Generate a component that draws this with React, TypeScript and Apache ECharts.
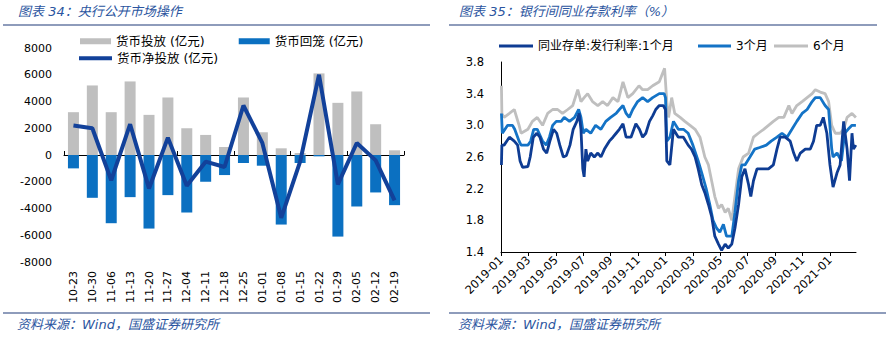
import React, { useEffect, useRef } from 'react';
import * as echarts from 'echarts';

// ---------- Left chart: 央行公开市场操作 ----------
const weekLabels = ['10-23', '10-30', '11-06', '11-13', '11-20', '11-27', '12-04', '12-11', '12-18', '12-25', '01-01', '01-08', '01-15', '01-22', '01-29', '02-05', '02-12', '02-19'];
const injection = [3200, 5200, 3200, 5500, 3000, 4300, 2000, 1500, 600, 4300, 1700, 500, 150, 6100, 3900, 4750, 2300, 350];
const withdrawal = [-1000, -3200, -5100, -3150, -5500, -3000, -4300, -2000, -1500, -600, -800, -5200, -600, -100, -6100, -3850, -2800, -3750];
const netInjection = [2200, 2000, -1900, 2300, -2500, 1300, -2300, -500, -900, 3700, 900, -4700, -500, 6000, -2200, 900, -400, -3400];
const leftAxisMin = -8000;
const leftAxisMax = 8000;
const leftAxisStep = 2000;

// ---------- Right chart: 银行间同业存款利率 ----------
const rate1M: [string, number][] = [
  ['2019-01-02', 2.5], ['2019-01-03', 2.75], ['2019-01-08', 2.75], ['2019-01-20', 2.85], ['2019-01-31', 2.8], ['2019-02-07', 2.75], ['2019-02-12', 2.55], ['2019-02-17', 2.47], ['2019-02-28', 2.48], ['2019-03-05', 2.6], ['2019-03-12', 2.85], ['2019-03-20', 2.9], ['2019-03-27', 2.85], ['2019-04-04', 2.7], ['2019-04-11', 2.65], ['2019-04-18', 2.8], ['2019-04-26', 2.95], ['2019-05-03', 2.9], ['2019-05-10', 2.75], ['2019-05-18', 2.6], ['2019-05-25', 2.62], ['2019-06-02', 2.75], ['2019-06-09', 2.95], ['2019-06-17', 3.05], ['2019-06-22', 3.15], ['2019-06-26', 2.95], ['2019-06-30', 2.45], ['2019-07-03', 2.35], ['2019-07-07', 2.7], ['2019-07-11', 2.55], ['2019-07-18', 2.65], ['2019-07-26', 2.6], ['2019-08-03', 2.65], ['2019-08-10', 2.6], ['2019-08-18', 2.7], ['2019-08-29', 2.8], ['2019-09-06', 2.85], ['2019-09-13', 2.9], ['2019-09-20', 2.95], ['2019-09-28', 3.02], ['2019-10-05', 2.85], ['2019-10-16', 2.85], ['2019-10-27', 3.02], ['2019-11-04', 2.95], ['2019-11-11', 2.85], ['2019-11-18', 2.9], ['2019-11-26', 3.05], ['2019-12-03', 3.12], ['2019-12-10', 3.2], ['2019-12-18', 3.25], ['2019-12-27', 3.25], ['2020-01-01', 3.2],
  ['2020-01-04', 2.55], ['2020-01-11', 2.5], ['2020-01-19', 2.95], ['2020-01-30', 2.85], ['2020-02-10', 2.85], ['2020-02-20', 2.75], ['2020-02-27', 2.7], ['2020-03-06', 2.6], ['2020-03-13', 2.45], ['2020-03-21', 2.25], ['2020-03-28', 2.15], ['2020-04-05', 2.0], ['2020-04-12', 1.85], ['2020-04-19', 1.6], ['2020-04-27', 1.5], ['2020-05-04', 1.42], ['2020-05-12', 1.5], ['2020-05-19', 1.45], ['2020-05-27', 1.5], ['2020-06-03', 1.7], ['2020-06-11', 2.0], ['2020-06-18', 2.35], ['2020-06-25', 2.45], ['2020-07-03', 2.25], ['2020-07-08', 2.1], ['2020-07-14', 2.3], ['2020-07-22', 2.45], ['2020-08-06', 2.45], ['2020-08-17', 2.45], ['2020-08-28', 2.5], ['2020-09-05', 2.7], ['2020-09-12', 2.85], ['2020-09-23', 2.85], ['2020-10-04', 2.8], ['2020-10-12', 2.65], ['2020-10-19', 2.55], ['2020-10-27', 2.65], ['2020-11-07', 2.7], ['2020-11-18', 2.7], ['2020-11-25', 2.8], ['2020-12-02', 3.0], ['2020-12-10', 3.0], ['2020-12-17', 3.1], ['2020-12-25', 2.9], ['2021-01-01', 2.5], ['2021-01-08', 2.22], ['2021-01-17', 2.4], ['2021-01-24', 2.5], ['2021-02-01', 3.05], ['2021-02-08', 2.7], ['2021-02-13', 2.3], ['2021-02-18', 2.9], ['2021-02-21', 2.7], ['2021-02-26', 2.75],
];
const rate3M: [string, number][] = [
  ['2019-01-02', 3.15], ['2019-01-04', 2.9], ['2019-01-16', 3.0], ['2019-01-27', 3.0], ['2019-02-01', 2.95], ['2019-02-10', 2.8], ['2019-02-14', 2.75], ['2019-02-28', 2.75], ['2019-03-06', 2.8], ['2019-03-13', 2.95], ['2019-03-21', 2.95], ['2019-04-02', 2.8], ['2019-04-10', 2.75], ['2019-04-17', 2.85], ['2019-04-24', 3.0], ['2019-05-02', 3.05], ['2019-05-13', 3.05], ['2019-05-20', 3.1], ['2019-06-01', 3.05], ['2019-06-12', 3.1], ['2019-06-21', 3.2], ['2019-06-26', 3.1], ['2019-07-01', 2.9], ['2019-07-07', 2.95], ['2019-07-18', 2.9], ['2019-07-29', 3.0], ['2019-08-10', 2.95], ['2019-08-21', 3.05], ['2019-09-01', 3.1], ['2019-09-13', 3.15], ['2019-09-20', 3.2], ['2019-09-28', 3.25], ['2019-10-05', 3.15], ['2019-10-12', 3.1], ['2019-10-20', 3.2], ['2019-10-31', 3.3], ['2019-11-11', 3.35], ['2019-11-22', 3.3], ['2019-12-03', 3.35], ['2019-12-18', 3.4], ['2019-12-29', 3.4], ['2020-01-01', 3.35],
  ['2020-01-04', 2.8], ['2020-01-11', 2.85], ['2020-01-19', 3.05], ['2020-01-30', 2.95], ['2020-02-10', 2.95], ['2020-02-20', 2.9], ['2020-03-01', 2.75], ['2020-03-13', 2.55], ['2020-03-21', 2.4], ['2020-03-31', 2.2], ['2020-04-08', 2.0], ['2020-04-15', 1.8], ['2020-04-23', 1.7], ['2020-04-30', 1.65], ['2020-05-08', 1.75], ['2020-05-15', 1.6], ['2020-05-27', 1.6], ['2020-06-03', 1.9], ['2020-06-11', 2.3], ['2020-06-18', 2.5], ['2020-06-25', 2.5], ['2020-07-06', 2.6], ['2020-07-17', 2.7], ['2020-07-28', 2.72], ['2020-08-12', 2.75], ['2020-08-23', 2.8], ['2020-09-05', 2.85], ['2020-09-16', 2.9], ['2020-09-27', 2.85], ['2020-10-08', 2.95], ['2020-10-19', 3.05], ['2020-10-31', 3.15], ['2020-11-11', 3.2], ['2020-11-22', 3.3], ['2020-11-29', 3.35], ['2020-12-10', 3.35], ['2020-12-21', 3.25], ['2020-12-29', 3.2], ['2021-01-05', 2.7], ['2021-01-08', 2.6], ['2021-01-17', 2.65], ['2021-01-27', 2.55], ['2021-02-03', 2.9], ['2021-02-10', 2.95], ['2021-02-18', 3.0], ['2021-02-26', 3.0],
];
const rate6M: [string, number][] = [
  ['2019-01-02', 3.5], ['2019-01-03', 3.15], ['2019-01-08', 3.1], ['2019-01-20', 3.15], ['2019-01-31', 3.2], ['2019-02-10', 3.0], ['2019-02-14', 2.9], ['2019-02-28', 2.95], ['2019-03-10', 3.05], ['2019-03-21', 3.1], ['2019-04-02', 3.0], ['2019-04-13', 3.15], ['2019-04-24', 3.2], ['2019-05-05', 3.2], ['2019-05-16', 3.15], ['2019-05-28', 3.2], ['2019-06-08', 3.25], ['2019-06-19', 3.45], ['2019-06-26', 3.3], ['2019-07-03', 3.35], ['2019-07-11', 3.4], ['2019-07-22', 3.3], ['2019-08-03', 3.25], ['2019-08-14', 3.3], ['2019-08-25', 3.25], ['2019-09-06', 3.35], ['2019-09-17', 3.3], ['2019-09-28', 3.55], ['2019-10-09', 3.35], ['2019-10-20', 3.4], ['2019-11-03', 3.5], ['2019-11-11', 3.45], ['2019-11-22', 3.45], ['2019-12-03', 3.5], ['2019-12-18', 3.55], ['2019-12-25', 3.65], ['2019-12-30', 3.72],
  ['2020-01-04', 3.3], ['2020-01-08', 3.1], ['2020-01-15', 3.35], ['2020-01-22', 3.15], ['2020-02-03', 3.1], ['2020-02-13', 3.05], ['2020-02-24', 3.0], ['2020-03-06', 2.95], ['2020-03-17', 2.85], ['2020-03-28', 2.6], ['2020-04-05', 2.5], ['2020-04-12', 2.3], ['2020-04-19', 2.1], ['2020-04-27', 1.95], ['2020-05-04', 2.0], ['2020-05-12', 1.9], ['2020-05-19', 1.95], ['2020-05-27', 1.8], ['2020-06-03', 2.1], ['2020-06-11', 2.45], ['2020-06-21', 2.6], ['2020-07-03', 2.65], ['2020-07-14', 2.85], ['2020-07-25', 2.9], ['2020-08-06', 2.95], ['2020-08-17', 3.0], ['2020-08-28', 3.05], ['2020-09-09', 3.1], ['2020-09-20', 3.1], ['2020-10-01', 3.25], ['2020-10-08', 3.15], ['2020-10-19', 3.25], ['2020-10-31', 3.3], ['2020-11-11', 3.35], ['2020-11-22', 3.4], ['2020-11-29', 3.45], ['2020-12-10', 3.42], ['2020-12-21', 3.4], ['2020-12-29', 3.3], ['2021-01-05', 3.0], ['2021-01-13', 2.9], ['2021-01-24', 2.9], ['2021-02-01', 2.95], ['2021-02-08', 3.1], ['2021-02-18', 3.15], ['2021-02-26', 3.1],
];
const rateAxisMin = 1.4;
const rateAxisMax = 3.8;
const rateAxisStep = 0.4;
const startYear = 2019;
const monthSpan = 25.9; // 2019-01 .. late 2021-02

const FONT_NUM = 'DejaVu Sans, "Noto Sans CJK SC", sans-serif';
const FONT_CJK = '"DejaVu Sans", "Noto Sans CJK SC", sans-serif';
const TITLE_COLOR = '#2B55A0';
const RULE_COLOR = '#1F3B78';

function monthPos(d: string): number {
  const [y, m, day] = d.split('-').map(Number);
  const dim = new Date(y, m, 0).getDate();
  return (y - startYear) * 12 + (m - 1) + (day - 1) / dim;
}
function monthLabel(v: number): string {
  const idx = Math.round(v);
  if (Math.abs(v - idx) > 1e-6) return '';
  const y = startYear + Math.floor(idx / 12);
  const m = (idx % 12) + 1;
  return `${y}-${m < 10 ? '0' + m : m}`;
}
const toSeries = (arr: [string, number][]) => arr.map(([d, v]) => [monthPos(d), v]);

export default function App() {
  const ref = useRef<HTMLDivElement>(null);
  useEffect(() => {
    document.body.style.margin = '0';
    const chart = echarts.init(ref.current!, null, { renderer: 'svg' });
    const legendText = { fontSize: 12.5, color: '#000', fontFamily: FONT_CJK };
    chart.setOption({
      animation: false,
      backgroundColor: '#fff',
      grid: [
        { left: 64, top: 48, width: 340, height: 214 },
        { left: 501, top: 62, width: 355, height: 190 },
      ],
      legend: [
        { left: 80, top: 35, itemWidth: 31, itemHeight: 6, itemGap: 34, icon: 'rect', data: ['货币投放 (亿元)', '货币回笼 (亿元)'], textStyle: legendText, padding: 0 },
        { left: 79, top: 52, itemWidth: 33, itemHeight: 4, icon: 'rect', data: ['货币净投放 (亿元)'], textStyle: legendText, padding: 0 },
        { left: 499, top: 40, itemWidth: 34, itemHeight: 3, icon: 'rect', data: ['同业存单:发行利率:1个月'], textStyle: { ...legendText, fontSize: 12 }, padding: 0 },
        { left: 698, top: 40, itemWidth: 33, itemHeight: 3, icon: 'rect', data: ['3个月'], textStyle: { ...legendText, fontSize: 12 }, padding: 0 },
        { left: 774, top: 40, itemWidth: 34, itemHeight: 3, icon: 'rect', data: ['6个月'], textStyle: { ...legendText, fontSize: 12 }, padding: 0 },
      ],
      xAxis: [
        {
          type: 'category', gridIndex: 0, data: weekLabels, position: 'bottom',
          axisLine: { show: false, onZero: false }, axisTick: { show: false },
          axisLabel: { rotate: 90, fontSize: 11, color: '#000', fontFamily: FONT_NUM, margin: 9, interval: 0 },
        },
        {
          type: 'category', gridIndex: 0, data: weekLabels, position: 'bottom',
          axisLine: { show: true, onZero: true, onZeroAxisIndex: 0, lineStyle: { color: '#000', width: 1 } },
          axisTick: { show: true, inside: true, length: 4, lineStyle: { color: '#000' } },
          axisLabel: { show: false },
        },
        {
          type: 'value', gridIndex: 1, min: 0, max: monthSpan, interval: 2,
          axisLine: { show: true, onZero: false, lineStyle: { color: '#000', width: 1 } },
          axisTick: { show: true, inside: false, length: 4, lineStyle: { color: '#000' } },
          splitLine: { show: false },
          axisLabel: { rotate: 45, fontSize: 11.5, color: '#000', fontFamily: FONT_NUM, margin: 6, formatter: monthLabel, showMaxLabel: false },
        },
      ],
      yAxis: [
        {
          type: 'value', gridIndex: 0, min: leftAxisMin, max: leftAxisMax, interval: leftAxisStep,
          axisLine: { show: false }, axisTick: { show: false }, splitLine: { show: false },
          axisLabel: { fontSize: 11, color: '#000', fontFamily: FONT_NUM, margin: 12, formatter: (v: number) => String(v) },
        },
        {
          type: 'value', gridIndex: 1, min: rateAxisMin, max: rateAxisMax, interval: rateAxisStep,
          axisLine: { show: true, lineStyle: { color: '#000', width: 1 } },
          axisTick: { show: false }, splitLine: { show: false },
          axisLabel: { fontSize: 11.5, color: '#000', fontFamily: FONT_NUM, margin: 17, formatter: (v: number) => v.toFixed(1) },
        },
      ],
      series: [
        { name: '货币投放 (亿元)', type: 'bar', xAxisIndex: 0, yAxisIndex: 0, data: injection, barWidth: 11, barGap: '-100%', itemStyle: { color: '#BFBFBF' } },
        { name: '货币回笼 (亿元)', type: 'bar', xAxisIndex: 0, yAxisIndex: 0, data: withdrawal, barWidth: 11, barGap: '-100%', itemStyle: { color: '#0B70C1' } },
        { name: '货币净投放 (亿元)', type: 'line', xAxisIndex: 0, yAxisIndex: 0, data: netInjection, symbol: 'none', lineStyle: { color: '#12419A', width: 4 }, itemStyle: { color: '#12419A' }, z: 5 },
        { name: '6个月', type: 'line', xAxisIndex: 2, yAxisIndex: 1, data: toSeries(rate6M), symbol: 'none', lineStyle: { color: '#BFBFBF', width: 2.8 }, itemStyle: { color: '#BFBFBF' }, z: 2 },
        { name: '3个月', type: 'line', xAxisIndex: 2, yAxisIndex: 1, data: toSeries(rate3M), symbol: 'none', lineStyle: { color: '#1473C6', width: 2.8 }, itemStyle: { color: '#1473C6' }, z: 3 },
        { name: '同业存单:发行利率:1个月', type: 'line', xAxisIndex: 2, yAxisIndex: 1, data: toSeries(rate1M), symbol: 'none', lineStyle: { color: '#0E3C93', width: 2.8 }, itemStyle: { color: '#0E3C93' }, z: 4 },
      ],
      graphic: [
        { type: 'text', left: 18, top: 5, style: { text: '图表 34：央行公开市场操作', fill: TITLE_COLOR, font: 'italic 13px "DejaVu Sans", "Noto Sans CJK SC", sans-serif' } },
        { type: 'line', shape: { x1: 3, y1: 25, x2: 430, y2: 25 }, style: { stroke: RULE_COLOR, lineWidth: 1.2 } },
        { type: 'text', left: 459, top: 5, style: { text: '图表 35：银行间同业存款利率（%）', fill: TITLE_COLOR, font: 'italic 13px "DejaVu Sans", "Noto Sans CJK SC", sans-serif' } },
        { type: 'line', shape: { x1: 449, y1: 25, x2: 877, y2: 25 }, style: { stroke: RULE_COLOR, lineWidth: 1.2 } },
        { type: 'line', shape: { x1: 3, y1: 313, x2: 430, y2: 313 }, style: { stroke: RULE_COLOR, lineWidth: 1.2 } },
        { type: 'line', shape: { x1: 449, y1: 313, x2: 886, y2: 313 }, style: { stroke: RULE_COLOR, lineWidth: 1.2 } },
        { type: 'text', left: 17, top: 318, style: { text: '资料来源：Wind，国盛证券研究所', fill: TITLE_COLOR, font: 'italic 13px "DejaVu Sans", "Noto Sans CJK SC", sans-serif' } },
        { type: 'text', left: 458, top: 318, style: { text: '资料来源：Wind，国盛证券研究所', fill: TITLE_COLOR, font: 'italic 13px "DejaVu Sans", "Noto Sans CJK SC", sans-serif' } },
      ],
    });
    return () => chart.dispose();
  }, []);
  return <div ref={ref} style={{ width: 892, height: 339, position: 'absolute', left: 0, top: 0 }} />;
}
